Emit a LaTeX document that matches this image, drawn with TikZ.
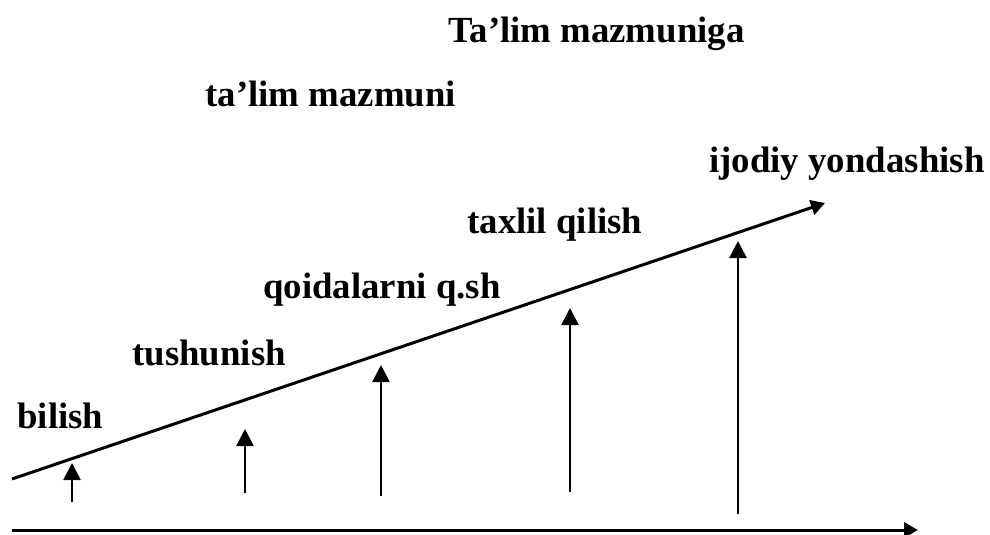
\documentclass[tikz,border=0pt]{standalone}
\usepackage{fontspec}
\setmainfont{Liberation Serif}
\usetikzlibrary{arrows.meta}

\begin{document}
\begin{tikzpicture}[
        x=0.5pt, y=-0.5pt,
        stage/.style={
            anchor=base west,
            inner sep=0pt,
            font=\fontsize{18.4}{21}\selectfont\bfseries
        },
        axis/.style={line width=1.5pt, -{Triangle[length=7pt, width=7.5pt]}},
        rise/.style={line width=1.35pt, -{Triangle[length=8.5pt, width=8.5pt]}}
    ]

        \useasboundingbox (0,0) rectangle (990,535);

        % Titres
        \node[stage] (goal) at (448,43) {Ta’lim mazmuniga};
        \node[stage] (content) at (205,107) {ta’lim mazmuni};

        % Niveaux
        \node[stage] (know) at (17,428) {bilish};
        \node[stage] (understand) at (132,365) {tushunish};
        \node[stage] (rules) at (263,298) {qoidalarni q.sh};
        \node[stage] (analyse) at (467,233) {taxlil qilish};
        \node[stage] (create) at (709,172) {ijodiy yondashish};

        % Axes
        \coordinate (slopestart) at (12,479);
        \coordinate (slopeend) at (825,203);
        \coordinate (basestart) at (12,530);
        \coordinate (baseend) at (918,530);

        \draw[axis] (slopestart) -- (slopeend);
        \draw[axis] (basestart) -- (baseend);

        % Flèches verticales
        \coordinate (knowlow) at (72,502);
        \coordinate (knowhigh) at (72,463);
        \coordinate (understandlow) at (245,493);
        \coordinate (understandhigh) at (245,429);
        \coordinate (ruleslow) at (381,496);
        \coordinate (ruleshigh) at (381,365);
        \coordinate (analyselow) at (570,492);
        \coordinate (analysehigh) at (570,308);
        \coordinate (createlow) at (738,514);
        \coordinate (createhigh) at (738,241);

        \draw[rise] (knowlow) -- (knowhigh);
        \draw[rise] (understandlow) -- (understandhigh);
        \draw[rise] (ruleslow) -- (ruleshigh);
        \draw[rise] (analyselow) -- (analysehigh);
        \draw[rise] (createlow) -- (createhigh);

    \end{tikzpicture}
\end{document}
